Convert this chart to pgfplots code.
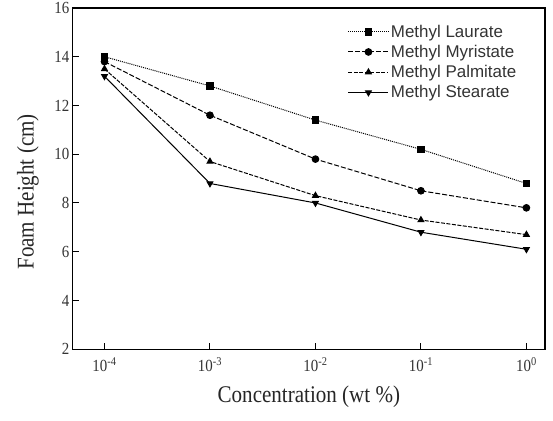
\documentclass[border=0pt]{standalone}
\usepackage{fontspec}
\setmainfont{Liberation Serif}
\newfontfamily\condserif{Liberation Serif}[FakeStretch=0.88]
\newfontfamily\arial{Liberation Sans}
\usepackage{pgfplots}
\pgfplotsset{compat=1.18}
\begin{document}
\begin{tikzpicture}
\begin{semilogxaxis}[
  scale only axis,
  width=472bp, height=341bp,
  xmin=5.0e-5, xmax=1.5, ymin=2, ymax=16,
  xtick={1e-4,1e-3,1e-2,1e-1,1},
  xticklabels={10\textsuperscript{-4},10\textsuperscript{-3},10\textsuperscript{-2},10\textsuperscript{-1},10\textsuperscript{0}},
  xminorticks=false,
  ytick={2,4,...,16},
  tick pos=left, tick align=inside,
  major tick length=6bp,
  axis line style={line width=1.2bp},
  every tick/.style={black, line width=1bp},
  /pgf/number format/assume math mode=true,
  tick label style={font=\condserif\fontsize{17}{17}\selectfont, text=black!80},
  xticklabel style={yshift=-5bp},
  label style={font=\condserif\fontsize{24}{26}\selectfont, text=black!85},
  xlabel={Concentration (wt \%)},
  ylabel={Foam Height (cm)},
  xlabel style={at={(axis description cs:0.5,-0.14)}, anchor=center},
  ylabel style={at={(axis description cs:-0.095,0.461)}, anchor=center},
  legend style={draw=none, fill=none, at={(0.576,0.963)}, anchor=north west,
    font=\arial\fontsize{17}{20}\selectfont, row sep=2.5bp, text=black!80},
  legend cell align=left,
  legend image code/.code={\draw[#1, mark repeat=2, mark phase=2] plot coordinates {(0bp,0bp) (20bp,0bp) (40bp,0bp)};},
  every axis plot/.append style={black, line width=1bp, mark size=3.3bp},
]
\addplot[densely dotted, mark=square*, mark options={solid}] coordinates {(1e-4,14.0) (1e-3,12.8) (1e-2,11.4) (1e-1,10.2) (1,8.8)};
\addlegendentry{Methyl Laurate}
\addplot[dash pattern=on 5bp off 2bp, mark=*, mark options={solid}] coordinates {(1e-4,13.8) (1e-3,11.6) (1e-2,9.8) (1e-1,8.5) (1,7.8)};
\addlegendentry{Methyl Myristate}
\addplot[dash pattern=on 4bp off 1.5bp, mark=triangle*, mark options={solid}] coordinates {(1e-4,13.5) (1e-3,9.7) (1e-2,8.3) (1e-1,7.3) (1,6.7)};
\addlegendentry{Methyl Palmitate}
\addplot[solid, mark=triangle*, mark options={solid, rotate=180}] coordinates {(1e-4,13.2) (1e-3,8.8) (1e-2,8.0) (1e-1,6.8) (1,6.1)};
\addlegendentry{Methyl Stearate}
\end{semilogxaxis}
\pgfresetboundingbox
\path[use as bounding box] (current axis.south west) ++(-72.7bp,-71bp) rectangle ([shift={(8bp,8bp)}]current axis.north east);
\end{tikzpicture}
\end{document}
